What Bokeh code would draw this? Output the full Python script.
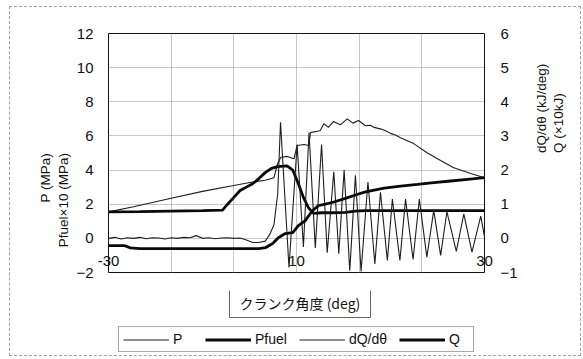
import math

from bokeh.plotting import figure
from bokeh.layouts import column
from bokeh.models import (Range1d, LinearAxis, FixedTicker, Label, Legend,
                          LegendItem)
from bokeh.embed import file_html
from bokeh.resources import INLINE

# ---- axes ----
x_grid = [-30, -20, -10, 0, 10, 20, 30]
xtick_pos = [-30, 0, 30]
xtick_text = ["-30", "10", "30"]
ytick_left = [-2, 0, 2, 4, 6, 8, 10, 12]
ytick_right = [-1, 0, 1, 2, 3, 4, 5, 6]

# ---- cylinder pressure P (MPa) ----
p_deg = [-30, -26, -20, -15, -10, -7, -5, -3.6, -3.0, -2.5, -1.5, -0.4, 0.1,
         1.2, 1.97, 2.23, 3.0, 3.8, 4.36, 5.1, 5.9, 7.0, 8.1, 9.0, 9.9, 11.0,
         11.8, 12.4, 13.5, 14.2, 15.0, 15.8, 16.6, 18.7, 20.9, 23.0, 25.0,
         27.8, 30.0]
p_val = [1.55, 1.85, 2.35, 2.75, 3.1, 3.3, 3.4, 3.55, 4.4, 4.75, 4.8, 4.66,
         5.44, 5.5, 5.44, 6.2, 6.25, 6.32, 6.71, 6.5, 6.85, 6.65, 7.0, 6.75,
         6.9, 6.6, 6.62, 6.5, 6.4, 6.3, 6.15, 6.05, 5.9, 5.55, 5.0, 4.56,
         4.15, 3.8, 3.55]

# ---- fuel pressure Pfuel x10 (MPa) ----
pf_deg = [-30, -25, -20, -15, -11.8, -11.0, -10.0, -9.0, -8.0, -7.0, -6.0,
          -5.0, -4.0, -3.0, -1.5, -0.6, 0.3, 1.1, 1.9, 2.7, 4.0, 5.7, 7.8,
          9.4, 11.0, 15.0, 20.0, 25.0, 30.0]
pf_val = [1.55, 1.57, 1.6, 1.62, 1.65, 2.0, 2.4, 2.8, 3.0, 3.2, 3.5, 3.85,
          4.1, 4.2, 4.25, 4.0, 3.2, 2.4, 1.8, 1.46, 1.5, 1.5, 1.52, 1.6,
          1.63, 1.63, 1.63, 1.63, 1.63]

# ---- heat release rate dQ/dθ (kJ/deg) ----
dq_deg = [-30, -29, -28, -27, -26, -25, -24, -23, -22, -21, -20, -19, -18,
          -17, -16, -15, -14, -13, -12, -11, -10, -9, -8, -7, -6, -5, -4.3,
          -3.6, -3.0, -2.55, -1.2, 0.1, 1.1, 2.0, 3.0, 4.0, 4.9, 5.95, 6.75,
          7.6, 8.5, 9.4, 10.3, 11.4, 12.5, 13.4, 14.5, 15.3, 16.5, 17.4,
          18.6, 19.6, 20.8, 21.9, 23.0, 24.0, 25.5, 26.7, 28.0, 29.4, 30.0]
dq_val = [0.0, 0.03, -0.02, 0.02, 0.0, 0.03, -0.01, 0.02, 0.01, -0.02, 0.02,
          0.0, 0.03, 0.02, 0.08, 0.0, 0.02, -0.01, 0.01, 0.02, 0.0, 0.01,
          -0.05, -0.12, -0.12, -0.08, 0.1, 0.4, 1.3, 3.4, -0.85, 2.75, -0.25,
          3.1, -0.28, 2.75, -0.42, 1.95, -0.45, 2.0, -0.95, 1.85, -0.97,
          1.65, -0.75, 1.35, -0.65, 1.15, -0.65, 1.15, -0.62, 1.15, -0.55,
          0.82, -0.5, 0.78, -0.38, 0.72, -0.4, 0.65, 0.05]

# ---- cumulative heat release Q (x10 kJ) ----
q_deg = [-30, -27.5, -26.5, -25, -20, -15, -10, -6, -4.9, -3.8, -2.9, -1.8,
         -0.6, 0.3, 1.4, 2.5, 3.5, 5.7, 7.8, 9.4, 11.0, 12.6, 14.0, 16.6,
         19.3, 21.9, 24.6, 27.3, 30.0]
q_val = [-0.21, -0.21, -0.28, -0.3, -0.3, -0.3, -0.3, -0.3, -0.27, -0.15,
         0.02, 0.14, 0.17, 0.37, 0.52, 0.8, 0.96, 1.05, 1.17, 1.27, 1.36,
         1.42, 1.47, 1.53, 1.58, 1.63, 1.68, 1.73, 1.78]

series_names = ["P", "Pfuel", "dQ/dθ", "Q"]
x_title = "クランク角度 (deg)"

LATIN = "Liberation Sans"
CJK = "Noto Sans CJK JP"
INK = "#111111"
THIN = dict(line_color="#1e1e1e", line_width=1.1)
THICK = dict(line_color="#0a0a0a", line_width=2.8)

# ---------------- main chart ----------------
p = figure(width=570, height=283, output_backend="svg", toolbar_location=None,
           x_range=Range1d(-30, 30), y_range=Range1d(-2, 12),
           min_border_left=98, min_border_right=96, min_border_top=26,
           min_border_bottom=18, background_fill_color="white",
           border_fill_color="white")
p.extra_y_ranges = {"r": Range1d(-1, 6)}
p.outline_line_color = INK
p.outline_line_width = 1

for g, t in ((p.xgrid, x_grid), (p.ygrid, ytick_left)):
    g.ticker = FixedTicker(ticks=t)
    g.grid_line_color = "#8f8f8f"
    g.grid_line_dash = "1 1"
    g.grid_line_width = 1


def style_axis(ax, standoff):
    ax.axis_line_color = None
    ax.major_tick_out = 0
    ax.major_tick_in = 0
    ax.minor_tick_out = 0
    ax.minor_tick_in = 0
    ax.major_label_text_font = LATIN
    ax.major_label_text_font_size = "15px"
    ax.major_label_text_color = INK
    ax.major_label_standoff = standoff


def title_axis(text, standoff, y_range_name="default"):
    # an axis without ticks that only carries a rotated title,
    # reading from bottom to top on both sides
    ax = LinearAxis(ticker=FixedTicker(ticks=[]), y_range_name=y_range_name,
                    axis_label=text, axis_label_standoff=standoff,
                    axis_label_text_font=LATIN,
                    axis_label_text_font_size="13.5px",
                    axis_label_text_font_style="normal",
                    axis_label_text_color=INK)
    style_axis(ax, 0)
    try:
        ax.axis_label_orientation = math.pi / 2
    except (AttributeError, ValueError):
        pass
    return ax


xa = p.xaxis[0]
xa.ticker = FixedTicker(ticks=xtick_pos)
xa.major_label_overrides = {k: v for k, v in zip(xtick_pos, xtick_text)}
style_axis(xa, -17)

ya = p.yaxis[0]
ya.ticker = FixedTicker(ticks=ytick_left)
style_axis(ya, 15)
p.add_layout(title_axis("Pfuel×10 (MPa)", 10), "left")
p.add_layout(title_axis("P (MPa)", 0), "left")

ra = LinearAxis(y_range_name="r", ticker=FixedTicker(ticks=ytick_right))
style_axis(ra, 16)
p.add_layout(ra, "right")
p.add_layout(title_axis("dQ/dθ (kJ/deg)", 21, "r"), "right")
p.add_layout(title_axis("Q (×10kJ)", -1, "r"), "right")

r_p = p.line(p_deg, p_val, **THIN)
r_pf = p.line(pf_deg, pf_val, **THICK)
r_dq = p.line(dq_deg, dq_val, y_range_name="r", **THIN)
r_q = p.line(q_deg, q_val, y_range_name="r", **THICK)

# ---------------- footer: boxed x title and legend ----------------
# The footer's frame lines up with the chart frame above it; its ranges
# lie outside the data, so the key lines only feed the legend.
q = figure(width=570, height=65, output_backend="svg", toolbar_location=None,
           x_range=Range1d(100, 101), y_range=Range1d(100, 101),
           x_axis_type=None, y_axis_type=None, min_border=0,
           background_fill_color="white", border_fill_color="white")
q.grid.visible = False
q.outline_line_color = None

q.add_layout(Label(x=191.5, y=53, x_units="screen", y_units="screen",
                   text=x_title, text_align="center",
                   text_baseline="middle", text_font=CJK,
                   text_font_size="14px", text_color=INK,
                   border_line_color="#666666", border_line_width=1,
                   background_fill_color="white",
                   padding=dict(left=10, right=10, top=5, bottom=5)))

keys = [q.line(p_deg, p_val, **THIN),
        q.line(pf_deg, pf_val, **THICK),
        q.line(dq_deg, dq_val, **THIN),
        q.line(q_deg, q_val, **THICK)]
legend = Legend(items=[LegendItem(label=n, renderers=[r])
                       for n, r in zip(series_names, keys)],
                orientation="horizontal", location=(10, 3),
                glyph_width=46, glyph_height=15, label_standoff=4,
                spacing=12, padding=4, margin=0,
                label_text_font=LATIN, label_text_font_size="14px",
                label_text_color=INK,
                border_line_color="#555555", border_line_width=1,
                background_fill_color="white", background_fill_alpha=1)
q.add_layout(legend)

page = column(p, q, spacing=0, margin=(7, 3, 4, 10),
              styles={"outline": "1px dashed #a0a0a0"})

open("out.html", "w").write(file_html(page, INLINE))
